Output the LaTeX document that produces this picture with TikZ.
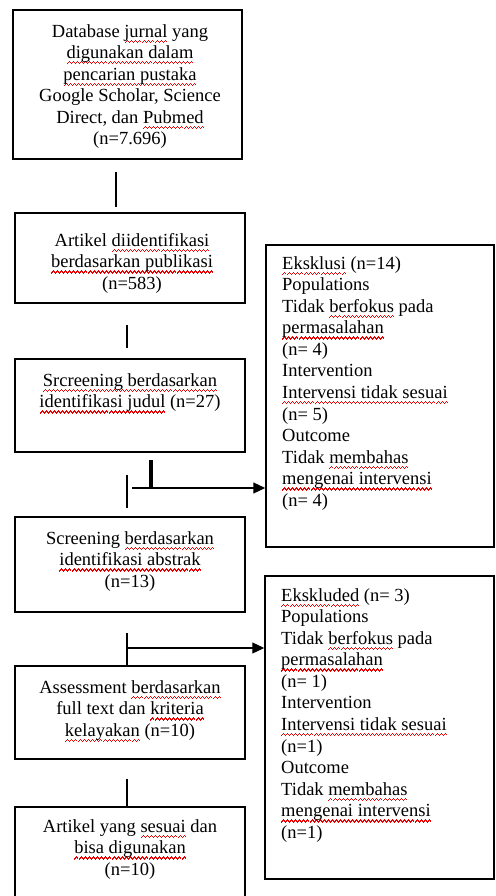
\documentclass[tikz,border=0pt]{standalone}
\usepackage{fontspec}
\setmainfont{Liberation Serif}
\usetikzlibrary{arrows.meta}
\newsavebox\spbox
\definecolor{spellred}{RGB}{230,0,0}
\newcommand\wunit{\rule[-5.8pt]{1pt}{1.4pt}\rule[-4.8pt]{1pt}{1.4pt}\rule[-3.8pt]{1pt}{1.4pt}\rule[-4.8pt]{1pt}{1.4pt}}
\newcommand\spell[1]{\leavevmode\sbox\spbox{#1}\rlap{\textcolor{spellred}{\hbox to\wd\spbox{\xleaders\hbox{\wunit}\hfill}}}\usebox\spbox}
\newcommand\fs{\rule{0pt}{13pt}}
\begin{document}
\begin{tikzpicture}[x=1pt,y=-1pt,
  boxst/.style={draw, line width=1.5pt, inner sep=0pt, minimum width=#1},
  txt/.style={align=center, inner sep=0pt, anchor=north, font=\fontsize{18.5}{21.5}\selectfont},
  ltxt/.style={align=left, inner sep=0pt, anchor=north west, font=\fontsize{18.5}{21.55}\selectfont},
  conn/.style={line width=1.3pt},
  arr/.style={line width=1.3pt, -{Triangle[length=12pt,width=11pt]}}]
\useasboundingbox (0,0) rectangle (495,896);
\clip (0,0) rectangle (495,896);
% boxes
\node[boxst=229pt, minimum height=149pt] (b1) at (127.5,84.5) {};
\node[boxst=230pt, minimum height=90pt] (b2) at (130,258) {};
\node[boxst=230pt, minimum height=93pt] (b3) at (130,405.5) {};
\node[boxst=230pt, minimum height=95pt] (b4) at (130,564.5) {};
\node[boxst=230pt, minimum height=93pt] (b5) at (130,712.5) {};
\node[boxst=230pt, minimum height=100pt] (b6) at (130,857) {};
\node[boxst=228pt, minimum height=302pt] (r1) at (380,396) {};
\node[boxst=229pt, minimum height=303pt] (r2) at (379.5,727.5) {};
% texts
\node[txt] (t1) at (130,24) {\fs Database \spell{jurnal} yang\\\spell{digunakan dalam}\\\spell{pencarian pustaka}\\Google Scholar, Science\\Direct, dan \spell{Pubmed}\\(n=7.696)};
\node[txt] (t2) at (132,233) {\fs Artikel \spell{diidentifikasi}\\\spell{berdasarkan publikasi}\\(n=583)};
\node[txt] (t3) at (130,373) {\fs \spell{Srcreening berdasarkan}\\\spell{identifikasi judul} (n=27)};
\node[txt] (t4) at (130,531) {\fs Screening \spell{berdasarkan}\\\spell{identifikasi abstrak}\\(n=13)};
\node[txt] (t5) at (130,680) {\fs Assessment \spell{berdasarkan}\\full text dan \spell{kriteria}\\\spell{kelayakan} (n=10)};
\node[txt] (t6) at (130,819) {\fs Artikel yang \spell{sesuai} dan\\\spell{bisa digunakan}\\(n=10)};
\node[ltxt] (rt1) at (282,256) {\fs \spell{Eksklusi} (n=14)\\Populations\\Tidak \spell{berfokus} pada\\\spell{permasalahan}\\(n= 4)\\Intervention\\\spell{Intervensi tidak sesuai}\\(n= 5)\\Outcome\\Tidak \spell{membahas}\\\spell{mengenai intervensi}\\(n= 4)};
\node[ltxt] (rt2) at (281,588) {\fs \spell{Ekskluded} (n= 3)\\Populations\\Tidak \spell{berfokus} pada\\\spell{permasalahan}\\(n= 1)\\Intervention\\\spell{Intervensi tidak sesuai}\\(n=1)\\Outcome\\Tidak \spell{membahas}\\\spell{mengenai intervensi}\\(n=1)};
% connector end points
\coordinate (l1a) at (116,172); \coordinate (l1b) at (116,207);
\coordinate (l2a) at (127,325); \coordinate (l2b) at (127,348);
\coordinate (l3a) at (127,475); \coordinate (l3b) at (127,508);
\coordinate (tka) at (151,460); \coordinate (tkb) at (151,488);
\coordinate (a1a) at (132,488);
\coordinate (l4a) at (127,633);
\coordinate (a2a) at (127,648);
\coordinate (l5a) at (127,779);
% connectors
\draw[conn] (l1a) -- (l1b);
\draw[conn] (l2a) -- (l2b);
\draw[conn] (l3a) -- (l3b);
\draw[line width=4pt] (tka) -- (tkb);
\draw[arr] (a1a) -- (a1a -| r1.west);
\draw[conn] (l4a) -- (l4a |- b5.north);
\draw[arr] (a2a) -- (a2a -| r2.west);
\draw[conn] (l5a) -- (l5a |- b6.north);
\end{tikzpicture}
\end{document}
